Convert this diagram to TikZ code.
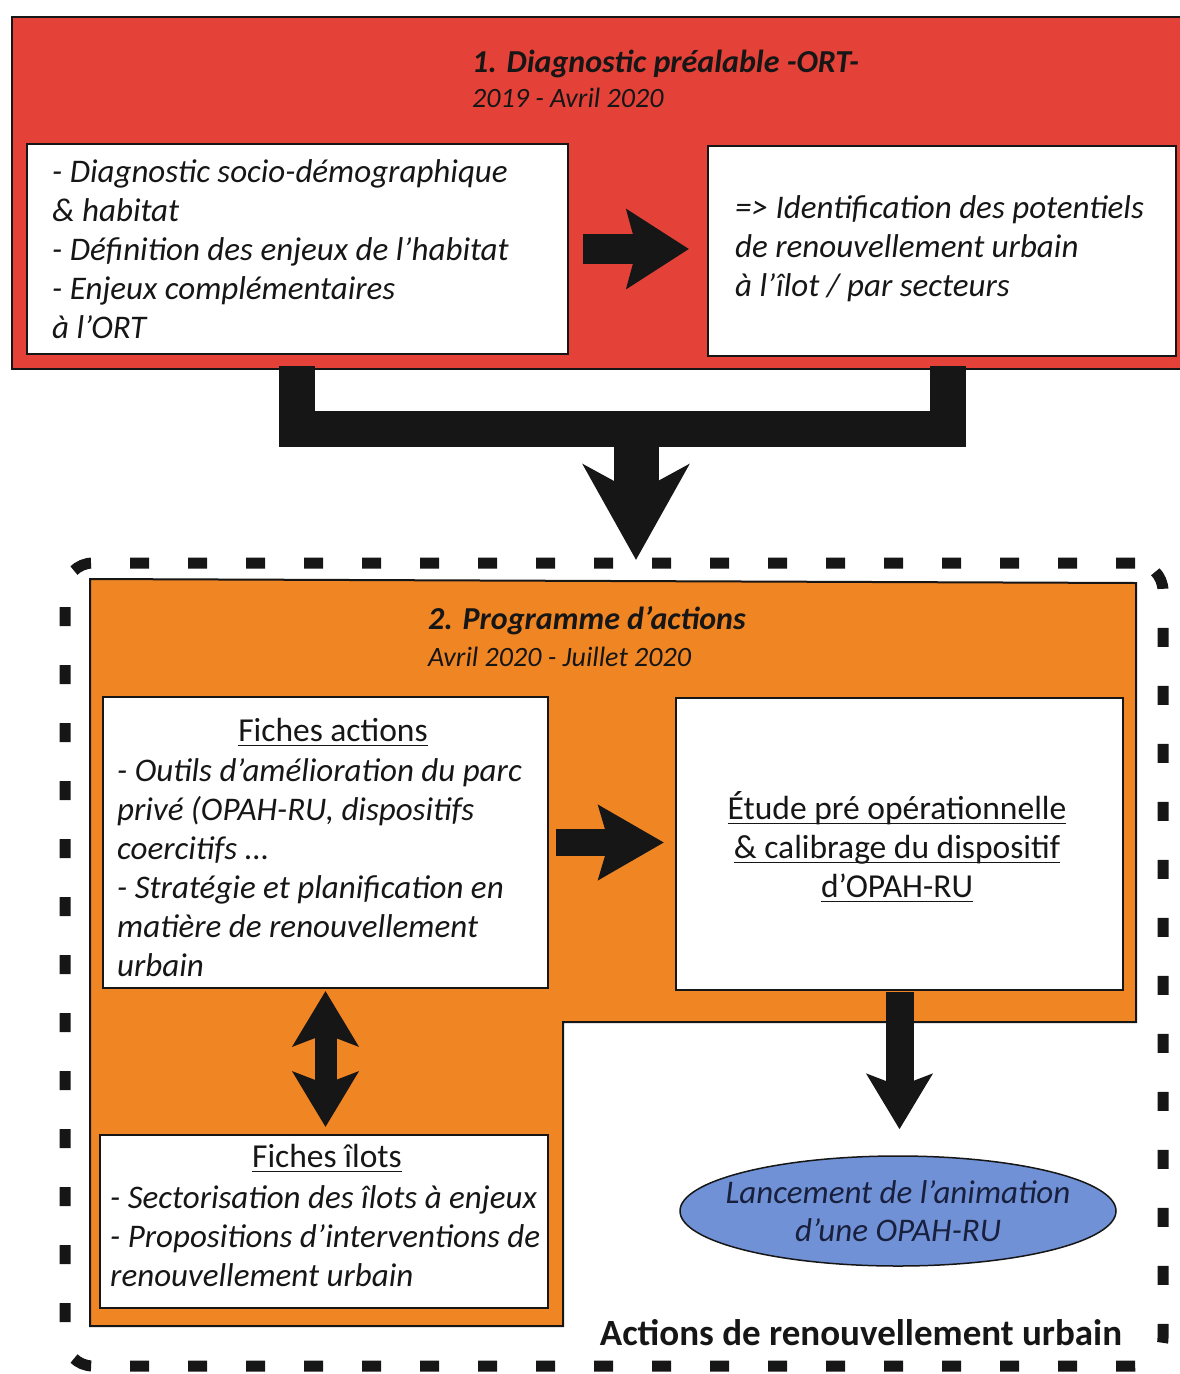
\documentclass[tikz,border=0pt]{standalone}
\usepackage{fontspec}
\setmainfont{Carlito}
\usetikzlibrary{arrows.meta,shapes.geometric}
\definecolor{redbg}{RGB}{228,66,56}
\definecolor{orangebg}{RGB}{240,133,36}
\definecolor{bluebg}{RGB}{112,145,214}
\definecolor{ink}{RGB}{22,22,22}
\definecolor{navy}{RGB}{24,32,62}
\newcommand\myul[1]{\setbox0\hbox{#1}\rlap{\rule[-5pt]{\wd0}{1.6pt}}\box0}
\begin{document}
\begin{tikzpicture}[x=1pt,y=-1pt,
 wbox/.style={draw=ink,line width=2pt,fill=white,rectangle,inner sep=0pt},
 body/.style={font=\fontsize{33}{39}\selectfont\itshape, text=ink, inner sep=0pt},
 headtxt/.style={font=\fontsize{33.5}{39}\selectfont, text=ink, inner sep=0pt},
 ttl/.style={font=\fontsize{32}{36}\selectfont\bfseries\itshape, text=ink, inner sep=0pt},
 datetxt/.style={font=\fontsize{28}{30}\selectfont\itshape, text=ink, inner sep=0pt},
 conn/.style={draw=ink, line cap=butt},
]
\useasboundingbox (0,0) rectangle (1179,1374);

% ---- panel 1
\node[draw=ink,line width=2.5pt,fill=redbg,minimum width=1173pt,minimum height=352pt,inner sep=0pt] (red) at (598.5,193) {};
\node[ttl,anchor=west] (t1) at (472,64) {1. Diagnostic préalable -ORT-};
\node[datetxt,anchor=west] (d1) at (472,98) {2019 - Avril 2020};

\node[wbox,minimum width=541pt,minimum height=210pt] (tl) at (297.5,249) {};
\node[body,anchor=west,align=left] (tlt) at (52,249) {- Diagnostic socio-démographique\\ \& habitat\\ - Définition des enjeux de l’habitat\\ - Enjeux complémentaires\\ à l’ORT};

\node[wbox,minimum width=468pt,minimum height=210pt] (tr) at (942,251) {};
\node[body,anchor=west,align=left] (trt) at (735,249) {=> Identification des potentiels\\ de renouvellement urbain\\ à l’îlot / par secteurs};

\draw[conn,line width=30pt,-{Stealth[length=62pt,width=78pt,inset=10pt]},shorten <=14pt,shorten >=18pt] (tl.east) -- (tl.east -| tr.west);

% ---- fork connector
\coordinate (fl) at (297,366);
\coordinate (fr) at (948,366);
\coordinate (fj) at (636,429);
\coordinate (tip1) at (636,560);
\draw[conn,line width=36pt] (fl) |- (fj) -| (fr);
\draw[conn,line width=45pt,-{Stealth[length=95pt,width=105pt,inset=28pt]}] (fj) -- (tip1);

% ---- dashed frame
\node[draw=ink,line width=11pt,dash pattern=on 19pt off 39pt,rounded corners=28pt,minimum width=1098pt,minimum height=803pt,inner sep=0pt] (frame) at (614,964.5) {};

% ---- panel 2
\fill[orangebg,draw=ink,line width=2pt] (90,579) -- (1136,583) -- (1136,1022) -- (563,1022) -- (563,1326) -- (90,1326) -- cycle;
\node[ttl,anchor=west] (t2) at (428,621) {2. Programme d’actions};
\node[datetxt,anchor=west] (d2) at (428,657) {Avril 2020 - Juillet 2020};

\node[wbox,minimum width=445pt,minimum height=291pt] (fa) at (325.5,842.5) {};
\node[headtxt] (fat) at (333,732) {\myul{Fiches actions}};
\node[body,anchor=west,align=left] (fab) at (117,868) {- Outils d’amélioration du parc\\ privé (OPAH-RU, dispositifs\\ coercitifs ...\\ - Stratégie et planification en\\ matière de renouvellement\\ urbain};

\node[wbox,minimum width=447pt,minimum height=292pt] (et) at (899.5,844) {};
\node[headtxt,align=center] (ett) at (897,847) {\myul{Étude pré opérationnelle}\\ \myul{\& calibrage du dispositif}\\ \myul{d’OPAH-RU}};

\draw[conn,line width=27pt,-{Stealth[length=65pt,width=73pt,inset=10pt]},shorten <=7pt,shorten >=11pt] (fa.east) -- (fa.east -| et.west);

\node[wbox,minimum width=448pt,minimum height=173pt] (fi) at (324,1221.5) {};
\node[headtxt] (fit) at (327,1158) {\myul{Fiches îlots}};
\node[body,anchor=west,align=left] (fib) at (110,1236) {- Sectorisation des îlots à enjeux\\ - Propositions d’interventions de\\ renouvellement urbain};

\draw[conn,line width=22pt,{Stealth[length=55pt,width=65pt,inset=12pt]}-{Stealth[length=55pt,width=65pt,inset=12pt]},shorten <=2pt,shorten >=7pt] (fa.south) -- (fa.south |- fi.north);

\node[ellipse,draw=ink,line width=1.5pt,fill=bluebg,minimum width=436pt,minimum height=110pt,inner sep=0pt] (el) at (898,1211) {};
\node[font=\fontsize{33}{38}\selectfont\itshape,text=navy,align=center,inner sep=0pt] (elt) at (el.center) {Lancement de l’animation\\ d’une OPAH-RU};

\draw[conn,line width=28pt,-{Stealth[length=55pt,width=65pt,inset=12pt]},shorten <=1pt,shorten >=26pt] (et.south) -- (et.south |- el.north);

\node[font=\fontsize{37}{40}\selectfont\bfseries,text=ink] (lab) at (861,1333) {Actions de renouvellement urbain};
\end{tikzpicture}
\end{document}
